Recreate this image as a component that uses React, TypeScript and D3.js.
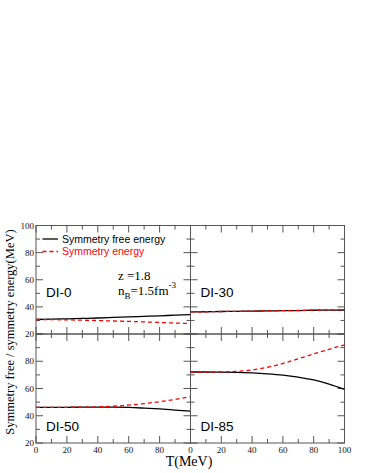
import * as d3 from 'd3';

// temperature grid (MeV)
const temps = [0, 10, 20, 30, 40, 50, 60, 70, 80, 90, 100];

// symmetry free energy (solid) and symmetry energy (dashed), MeV
const di0Free = [30.7, 30.9, 31.2, 31.5, 31.8, 32.2, 32.6, 33.0, 33.4, 33.9, 34.3];
const di0Sym = [30.7, 30.6, 30.4, 30.2, 29.9, 29.6, 29.3, 28.9, 28.5, 28.1, 27.7];
const di30Free = [36.3, 36.4, 36.6, 36.7, 36.9, 37.0, 37.2, 37.3, 37.5, 37.6, 37.7];
const di30Sym = [36.3, 36.4, 36.6, 36.7, 36.9, 37.0, 37.2, 37.4, 37.6, 37.8, 37.9];
const di50Free = [46.1, 46.1, 46.2, 46.3, 46.3, 46.3, 46.1, 45.6, 45.0, 44.2, 43.4];
const di50Sym = [46.1, 46.1, 46.2, 46.3, 46.5, 47.0, 47.8, 48.9, 50.3, 52.0, 54.0];
const di85Free = [72.1, 72.1, 72.0, 71.9, 71.5, 70.8, 69.8, 68.3, 66.3, 63.2, 59.3];
const di85Sym = [72.1, 72.1, 72.2, 72.6, 73.6, 75.6, 78.4, 81.8, 85.4, 88.8, 92.0];

const panelNames = ['DI-0', 'DI-30', 'DI-50', 'DI-85'];

const xTicks = [0, 20, 40, 60, 80, 100];
const yTicks = [20, 40, 60, 80, 100];

const W = 366;
const H = 473;
const colX = [36, 190.5, 344.5];
const rowY = [225.5, 334, 443];
const axisColor = '#555';
const serif = '"Liberation Serif", "Times New Roman", serif';
const sans = '"Liberation Sans", Arial, sans-serif';

function Panel({ row, col, name, free, sym }) {
  const x = d3.scaleLinear().domain([0, 100]).range([colX[col], colX[col + 1]]);
  const y = d3.scaleLinear().domain([20, 100]).range([rowY[row + 1], rowY[row]]);

  const line = d3
    .line()
    .x((d) => x(d[0]))
    .y((d) => y(d[1]))
    .curve(d3.curveMonotoneX);

  const freePts = temps.map((t, i) => [t, free[i]]);
  const symPts = temps.map((t, i) => [t, sym[i]]);

  const minorX = d3.range(0, 101, 10);
  const minorY = d3.range(20, 101, 10);
  const [x0, x1] = x.range();
  const [y0, y1] = [y(100), y(20)];

  const tickLen = (major) => (major ? 7 : 4);

  // shared edges are not labelled twice
  const yLabels = col === 0 ? (row === 0 ? yTicks : yTicks.filter((v) => v !== 100)) : [];
  const xLabels = row === 1 ? (col === 0 ? xTicks.filter((v) => v !== 100) : xTicks) : [];

  return (
    <g>
      <rect x={x0} y={y0} width={x1 - x0} height={y1 - y0} fill="none" stroke={axisColor} strokeWidth={1} />
      {minorX.map((v) => {
        const len = tickLen(v % 20 === 0);
        return (
          <g key={'x' + v} stroke={axisColor} strokeWidth={1}>
            <line x1={x(v)} x2={x(v)} y1={y1} y2={y1 - len} />
            <line x1={x(v)} x2={x(v)} y1={y0} y2={y0 + len} />
          </g>
        );
      })}
      {minorY.map((v) => {
        const len = tickLen(v % 20 === 0);
        return (
          <g key={'y' + v} stroke={axisColor} strokeWidth={1}>
            <line x1={x0} x2={x0 + len} y1={y(v)} y2={y(v)} />
            <line x1={x1} x2={x1 - len} y1={y(v)} y2={y(v)} />
          </g>
        );
      })}
      {yLabels.map((v) => (
        <text key={'yl' + v} x={x0 - 2} y={y(v)} dy="0.35em" textAnchor="end" fontSize={9} fontFamily={serif} fill="#111">
          {v}
        </text>
      ))}
      {xLabels.map((v) => (
        <text key={'xl' + v} x={x(v)} y={y1 + 10} textAnchor="middle" fontSize={9} fontFamily={serif} fill="#111">
          {v}
        </text>
      ))}
      <path d={line(freePts)} fill="none" stroke="#000" strokeWidth={1.3} />
      <path d={line(symPts)} fill="none" stroke="#ff0000" strokeWidth={1.3} strokeDasharray="4,3" />
      <text x={x0 + 10} y={row === 0 ? 296.5 : 430.5} fontSize={13.5} fontFamily={sans} fill="#000">
        {name}
      </text>
    </g>
  );
}

export default function App() {
  const series = [
    [di0Free, di0Sym],
    [di30Free, di30Sym],
    [di50Free, di50Sym],
    [di85Free, di85Sym],
  ];

  return (
    <svg width={W} height={H} style={{ position: 'absolute', left: 0, top: 0, background: '#fff' }}>
      {panelNames.map((name, i) => (
        <Panel key={name} row={Math.floor(i / 2)} col={i % 2} name={name} free={series[i][0]} sym={series[i][1]} />
      ))}

      {/* legend */}
      <line x1={42.5} x2={58} y1={239} y2={239} stroke="#000" strokeWidth={1.3} />
      <text x={62} y={242.5} fontSize={10.5} fontFamily={sans} fill="#000">
        Symmetry free energy
      </text>
      <line x1={42.5} x2={58} y1={251.5} y2={251.5} stroke="#ff0000" strokeWidth={1.3} strokeDasharray="4,3" />
      <text x={62} y={255} fontSize={10.5} fontFamily={sans} fill="#ff0000">
        Symmetry energy
      </text>

      {/* annotation */}
      <text x={118} y={280} fontSize={13} fontFamily={serif} fill="#000">
        z =1.8
      </text>
      <text x={118} y={295} fontSize={13} fontFamily={serif} fill="#000">
        n
        <tspan fontSize={9} dy={4}>B</tspan>
        <tspan dy={-4}>=1.5fm</tspan>
        <tspan fontSize={9} dy={-7}>-3</tspan>
      </text>

      {/* axis titles */}
      <text
        transform="translate(14,332) rotate(-90)"
        textAnchor="middle"
        fontSize={12.5}
        fontFamily={serif}
        fill="#000"
      >
        Symmetry free / symmetry energy(MeV)
      </text>
      <text x={189} y={466} textAnchor="middle" fontSize={14} fontFamily={serif} fill="#000">
        T(MeV)
      </text>
    </svg>
  );
}
